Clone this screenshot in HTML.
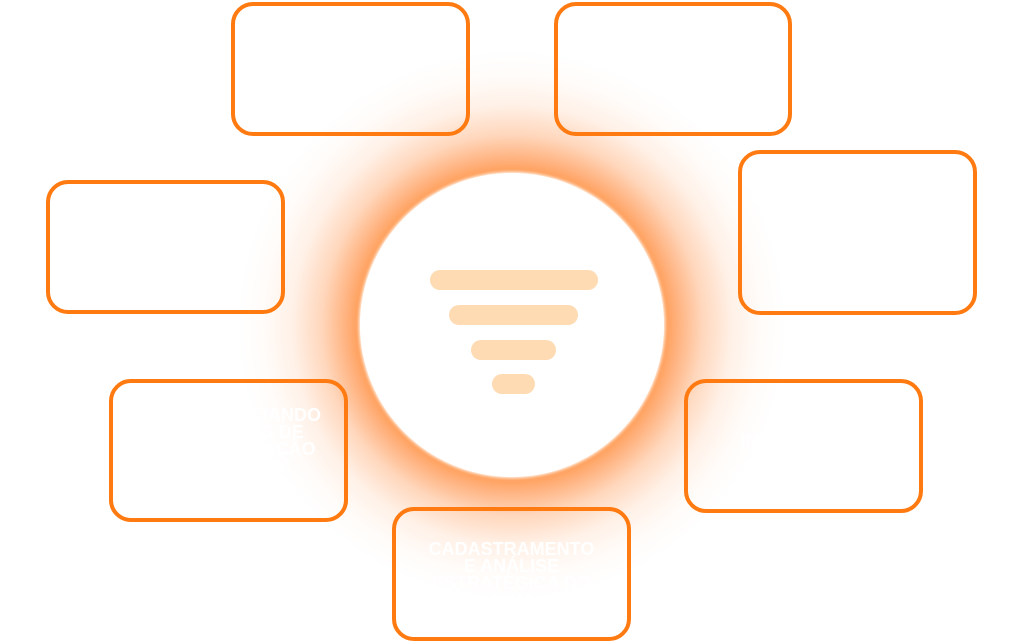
<!DOCTYPE html>
<html><head><meta charset="utf-8"><style>
body{margin:0;width:1024px;height:644px;background:#fff;position:relative;overflow:hidden;font-family:"Liberation Sans",sans-serif}
.glow{position:absolute;left:212px;top:25px;width:600px;height:600px;border-radius:50%;
background:radial-gradient(circle at center,#ff9a50 0,#ff9a50 150px,rgba(255,150,80,.75) 165px,rgba(255,165,105,.45) 190px,rgba(255,190,145,.22) 220px,rgba(255,215,185,.08) 250px,rgba(255,255,255,0) 275px)}
.c{position:absolute;left:360px;top:173px;width:304px;height:304px;border-radius:50%;background:#fff;box-shadow:0 0 3px 1px #fff}
.bar{position:absolute;background:#fedbb3;border-radius:10px;height:20px}
.box{position:absolute;border:4px solid #ff7a10;border-radius:22px;box-sizing:border-box;color:#fff;font-weight:bold;font-size:18px;text-align:center;display:flex;align-items:center;justify-content:center;line-height:17px}
</style></head><body>
<div class="glow"></div>
<div class="c"></div>
<div class="bar" style="left:430px;top:270px;width:168px"></div>
<div class="bar" style="left:449px;top:305px;width:129px"></div>
<div class="bar" style="left:471px;top:340px;width:85px"></div>
<div class="bar" style="left:492px;top:374px;width:43px"></div>
<div class="box" style="left:231px;top:2px;width:239px;height:134px"></div>
<div class="box" style="left:554px;top:2px;width:238px;height:134px"></div>
<div class="box" style="left:46px;top:180px;width:239px;height:134px"></div>
<div class="box" style="left:738px;top:150px;width:239px;height:165px"></div>
<div class="box" style="left:109px;top:379px;width:239px;height:143px;padding-left:50px;padding-bottom:20px">GERENCIANDO<br>ETAPAS DE<br>NEGOCIAÇÃO<br>DO CRM</div>
<div class="box" style="left:684px;top:379px;width:239px;height:134px;padding-bottom:10px">INDICADORES</div>
<div class="box" style="left:392px;top:507px;width:239px;height:134px;align-items:flex-start;padding-top:30px">CADASTRAMENTO<br>E ANÁLISE<br>ESTRATÉGICA DO<br>CRM</div>
</body></html>
